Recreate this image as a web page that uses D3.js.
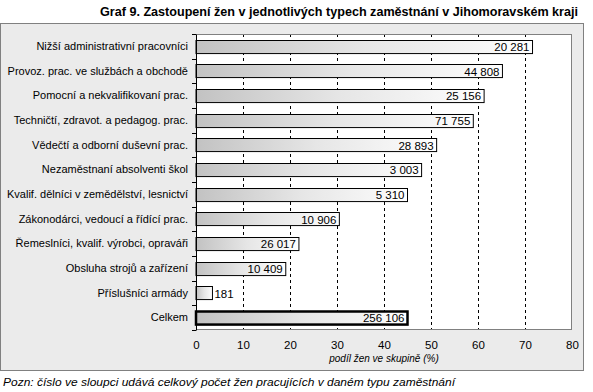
<!DOCTYPE html>
<html><head><meta charset="utf-8">
<script src="https://cdn.jsdelivr.net/npm/d3@7"></script>
<style>body{margin:0;background:#fff}svg{display:block}</style>
</head><body>
<script>
const categories = ["Nižší administrativní pracovníci","Provoz. prac. ve službách a obchodě","Pomocní a nekvalifikovaní prac.","Techničtí, zdravot. a pedagog. prac.","Vědečtí a odborní duševní prac.","Nezaměstnaní absolventi škol","Kvalif. dělníci v zemědělství, lesnictví","Zákonodárci, vedoucí a řídící prac.","Řemeslníci, kvalif. výrobci, opraváři","Obsluha strojů a zařízení","Příslušníci armády","Celkem"];
const shares = [71.6, 65.2, 61.3, 59.0, 51.2, 48.0, 45.0, 30.5, 21.9, 19.1, 3.5, 45.0];
const counts = ["20 281","44 808","25 156","71 755","28 893","3 003","5 310","10 906","26 017","10 409","181","256 106"];
const xTicks = [0,10,20,30,40,50,60,70,80];
const title = "Graf 9. Zastoupení žen v jednotlivých typech zaměstnání v Jihomoravském kraji";
const xLabel = "podíl žen ve skupině (%)";
const note = "Pozn: číslo ve sloupci udává celkový počet žen pracujících v daném typu zaměstnání";

const W=593,H=392;
const svg=d3.select("body").append("svg").attr("width",W).attr("height",H);
const font="'Liberation Sans', Arial, sans-serif";

const defs=svg.append("defs");
const g1=defs.append("linearGradient").attr("id","bg").attr("x1",0).attr("x2",1).attr("y1",0).attr("y2",0);
g1.append("stop").attr("offset",0).attr("stop-color","#c2c2c2");
g1.append("stop").attr("offset",0.5).attr("stop-color","#e6e6e6");
g1.append("stop").attr("offset",0.85).attr("stop-color","#f6f6f6");
g1.append("stop").attr("offset",1).attr("stop-color","#ffffff");

svg.append("text").attr("x",339).attr("y",16).attr("text-anchor","middle")
  .attr("font-family",font).attr("font-weight","bold").attr("font-size",13)
  .attr("textLength",478).attr("lengthAdjust","spacingAndGlyphs").text(title);

svg.append("rect").attr("x",0.5).attr("y",23.5).attr("width",583).attr("height",347)
  .attr("fill","#ebebeb").attr("stroke","#808080");

const L=196,R=572,T=34,B=330;
const x=d3.scaleLinear().domain([0,80]).range([L,R]);
const y=d3.scaleBand().domain(categories).range([T,B]).paddingInner(0.47).paddingOuter(0.235);
const yb=d3.scaleBand().domain(categories).range([T,B]);

svg.append("rect").attr("x",L).attr("y",T).attr("width",R-L).attr("height",B-T).attr("fill","#fff");

svg.selectAll(".grid").data(xTicks.filter(d=>d>0&&d<80)).join("line")
  .attr("x1",d=>Math.round(x(d))+0.5).attr("x2",d=>Math.round(x(d))+0.5)
  .attr("y1",T).attr("y2",B).attr("stroke","#000").attr("stroke-dasharray","3,3");

svg.append("rect").attr("x",L+0.5).attr("y",T+0.5).attr("width",R-L-1).attr("height",B-T-1)
  .attr("fill","none").attr("stroke","#808080");

// bars
svg.selectAll(".bar").data(categories).join("rect")
  .attr("x",x(0)).attr("y",d=>Math.round(y(d))+0.5)
  .attr("width",(d,i)=>x(shares[i])-x(0)).attr("height",y.bandwidth())
  .attr("fill","url(#bg)").attr("stroke","#000")
  .attr("stroke-width",(d,i)=>i===categories.length-1?2.5:1);

svg.selectAll(".val").data(categories).join("text")
  .attr("x",(d,i)=>shares[i]<10? x(shares[i])+2 : x(shares[i])-3)
  .attr("y",d=>y(d)+y.bandwidth()/2+4.5)
  .attr("text-anchor",(d,i)=>shares[i]<10?"start":"end")
  .attr("font-family",font).attr("font-size",11.5).text((d,i)=>counts[i]);

// y axis
const yAxis=svg.append("g").attr("transform",`translate(${L},0)`)
  .call(d3.axisLeft(yb).tickSize(0).tickPadding(8));
yAxis.select(".domain").attr("stroke","#000");
yAxis.selectAll("text").attr("font-family",font).attr("font-size",11).attr("fill","#000");
svg.selectAll(".ytk").data(d3.range(categories.length+1)).join("line")
  .attr("x1",L-4).attr("x2",L).attr("y1",i=>Math.round(T+i*yb.step())+0.5).attr("y2",i=>Math.round(T+i*yb.step())+0.5)
  .attr("stroke","#000");

// x axis
const xAxis=svg.append("g").attr("transform",`translate(0,${B})`)
  .call(d3.axisBottom(x).tickValues(xTicks).tickSize(0).tickPadding(11));
xAxis.select(".domain").remove();
xAxis.selectAll("text").attr("font-family",font).attr("font-size",11.5).attr("fill","#000");

svg.append("text").attr("x",384).attr("y",362).attr("text-anchor","middle")
  .attr("font-family",font).attr("font-style","italic").attr("font-size",10).text(xLabel);

svg.append("text").attr("x",3).attr("y",386)
  .attr("font-family",font).attr("font-style","italic").attr("font-size",11)
  .attr("textLength",452).attr("lengthAdjust","spacingAndGlyphs").text(note);
</script>
</body></html>
